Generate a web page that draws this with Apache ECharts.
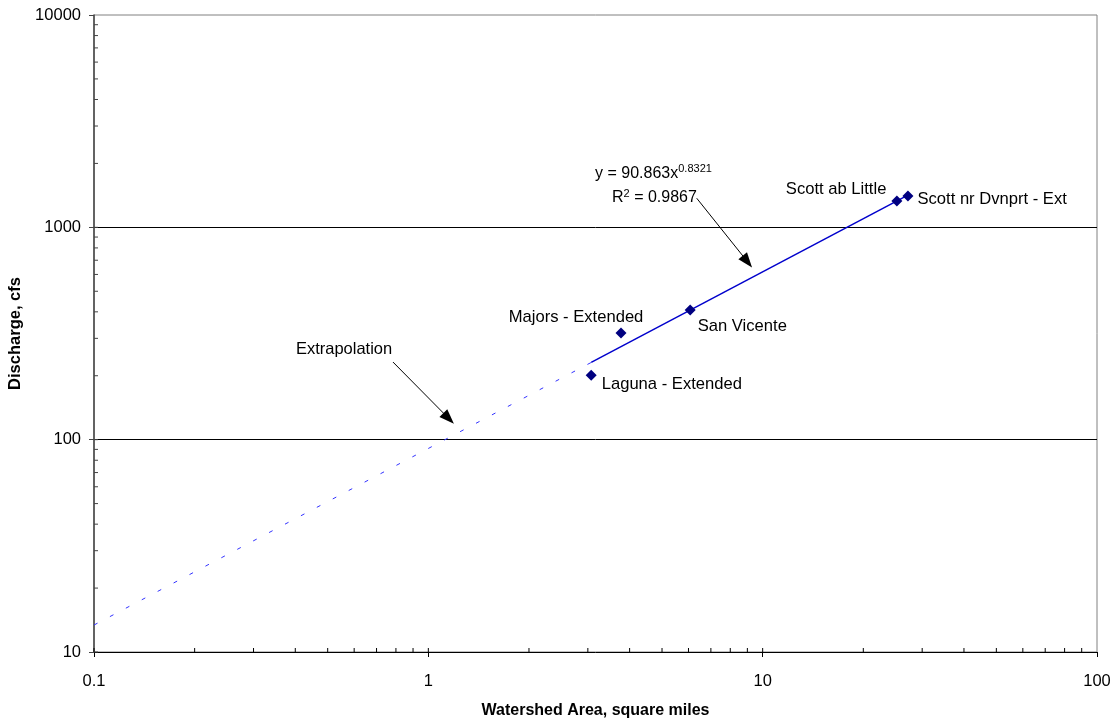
<!DOCTYPE html>
<html>
<head>
<meta charset="utf-8">
<script src="https://cdn.jsdelivr.net/npm/echarts@6/dist/echarts.min.js"></script>
<style>
  html, body { margin: 0; padding: 0; background: #fff; }
  #chart { width: 1119px; height: 724px; }
</style>
</head>
<body>
<div id="chart"></div>
<script>
// gauged sites
const sites = ['Laguna - Extended', 'Majors - Extended', 'San Vicente', 'Scott ab Little', 'Scott nr Dvnprt - Ext'];
const area = [3.07, 3.77, 6.07, 25.2, 27.2];
const discharge = [201, 318, 408, 1332, 1406];

// power trendline y = 90.863x^0.8321
const trendFit = [[3.07, 231], [27.2, 1419]];
const trendExtrap = [[0.1, 13.4], [3.07, 231]];

// tick values for the inner (minor) ticks of the log axes
const xTickVals = [0.1, 0.2, 0.3, 0.4, 0.5, 0.6, 0.7, 0.8, 0.9, 1, 2, 3, 4, 5, 6, 7, 8, 9, 10, 20, 30, 40, 50, 60, 70, 80, 90];
const yTickVals = [10, 20, 30, 40, 50, 60, 70, 80, 90, 100, 200, 300, 400, 500, 600, 700, 800, 900, 1000, 2000, 3000, 4000, 5000, 6000, 7000, 8000, 9000];

// annotation arrows [from, to] and text notes
const arrows = [
  [[6.35, 1371], [9.0, 690]],
  [[0.784, 232], [1.15, 126]]
];
const notes = [
  [0.5596, 267, 'Extrapolation'],
  [3.153, 1800, '{b|y = 90.863x}{s|0.8321}'],
  [3.544, 1376, '{b|R}{s|2}{b| = 0.9867}']
];

const FONT = "'Liberation Sans', Arial, sans-serif";

// where each site label sits relative to its diamond
const labelPos = [
  { position: 'right', distance: 5, offset: [0, 9] },
  { position: 'top', distance: 2, offset: [-45, 0] },
  { position: 'right', distance: 2, offset: [0, 16] },
  { position: 'left', distance: 5, offset: [0, -11] },
  { position: 'right', distance: 4, offset: [0, 4] }
];

const chart = echarts.init(document.getElementById('chart'), null, { renderer: 'canvas' });

const numFmt = v => String(+Number(v).toPrecision(6));

chart.setOption({
  animation: false,
  backgroundColor: '#fff',
  textStyle: { fontFamily: FONT },
  grid: {
    left: 94, right: 22, top: 15, bottom: 72,
    show: true, borderColor: '#808080', borderWidth: 1,
    containLabel: false, outerBoundsMode: 'none'
  },
  xAxis: {
    type: 'log', logBase: 10, min: 0.1, max: 100,
    name: 'Watershed Area, square miles',
    nameLocation: 'middle', nameGap: 51,
    nameTextStyle: { fontFamily: FONT, fontSize: 16, fontWeight: 'bold', color: '#000' },
    axisLine: { lineStyle: { color: '#000', width: 1 } },
    axisTick: { show: true, inside: false, length: 5, lineStyle: { color: '#000' } },
    axisLabel: { fontFamily: FONT, fontSize: 16.5, color: '#000', margin: 21, formatter: numFmt },
    splitLine: { show: false },
    minorTick: { show: false }
  },
  yAxis: {
    type: 'log', logBase: 10, min: 10, max: 10000,
    name: 'Discharge, cfs',
    nameLocation: 'middle', nameGap: 67,
    nameTextStyle: { fontFamily: FONT, fontSize: 16.5, fontWeight: 'bold', color: '#000' },
    axisLine: { lineStyle: { color: '#444', width: 1.5 } },
    axisTick: { show: true, inside: false, length: 5, lineStyle: { color: '#444' } },
    axisLabel: { fontFamily: FONT, fontSize: 16.5, color: '#000', margin: 13, formatter: numFmt },
    splitLine: { show: true, showMinLine: false, showMaxLine: false, lineStyle: { color: '#000', width: 1 } },
    minorTick: { show: false }
  },
  series: [
    {
      type: 'custom',
      name: 'xTicks',
      silent: true,
      clip: false,
      data: xTickVals.map(v => [v, 10]),
      renderItem: (params, api) => {
        const p = api.coord([api.value(0), api.value(1)]);
        return { type: 'line', shape: { x1: p[0], y1: p[1], x2: p[0], y2: p[1] - 4 }, style: { stroke: '#000', lineWidth: 1 } };
      },
      z: 5
    },
    {
      type: 'custom',
      name: 'yTicks',
      silent: true,
      clip: false,
      data: yTickVals.map(v => [0.1, v]),
      renderItem: (params, api) => {
        const p = api.coord([api.value(0), api.value(1)]);
        return { type: 'line', shape: { x1: p[0], y1: p[1], x2: p[0] + 4, y2: p[1] }, style: { stroke: '#444', lineWidth: 1 } };
      },
      z: 5
    },
    {
      type: 'line',
      name: 'extrapolation',
      data: trendExtrap,
      symbol: 'none',
      lineStyle: { color: '#3333ff', width: 1, type: [4, 14] },
      z: 3
    },
    {
      type: 'line',
      name: 'trend',
      data: trendFit,
      symbol: 'none',
      lineStyle: { color: '#0000cc', width: 1.5 },
      z: 3,
      markLine: {
        silent: true,
        symbol: ['none', 'triangle'],
        symbolSize: [11, 15],
        label: { show: false },
        lineStyle: { color: '#000', width: 1, type: 'solid' },
        data: arrows.map(a => [{ coord: a[0] }, { coord: a[1] }])
      }
    },
    {
      type: 'scatter',
      name: 'sites',
      symbol: 'diamond',
      symbolSize: 11,
      itemStyle: { color: '#000080', opacity: 1 },
      z: 6,
      data: sites.map((s, i) => ({
        value: [area[i], discharge[i]],
        name: s,
        label: Object.assign({
          show: true, formatter: s, color: '#000', fontFamily: FONT, fontSize: 16.6
        }, labelPos[i])
      }))
    },
    {
      type: 'scatter',
      name: 'notes',
      symbolSize: 0,
      silent: true,
      itemStyle: { opacity: 1 },
      z: 6,
      data: notes.map((n, i) => ({
        value: [n[0], n[1]],
        label: {
          show: true,
          position: 'inside',
          align: i === 0 ? 'center' : 'left',
          verticalAlign: 'middle',
          formatter: n[2],
          color: '#000',
          fontFamily: FONT,
          fontSize: 16.5,
          rich: {
            b: { fontFamily: FONT, fontSize: 16, color: '#000' },
            s: { fontFamily: FONT, fontSize: 11, color: '#000', verticalAlign: 'top', padding: [0, 0, 8, 0] }
          }
        }
      }))
    }
  ]
});
</script>
</body>
</html>
